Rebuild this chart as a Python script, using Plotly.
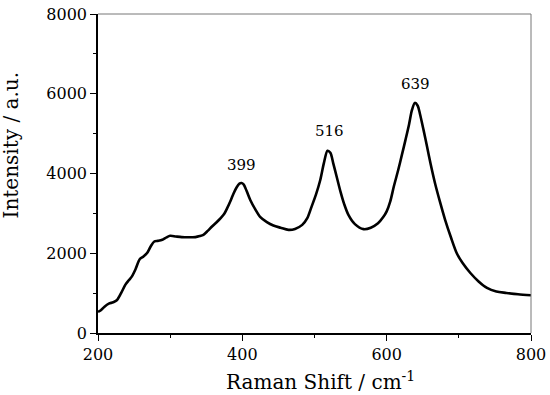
import plotly.graph_objects as go

shift = [200, 204, 209, 215, 221, 226, 232, 238, 243, 247, 252, 258, 263, 268, 273, 278, 283, 289, 295, 300,
         308, 316, 325, 335, 341, 346, 352, 358, 364, 370, 375, 379, 384, 388, 392, 396, 399, 402, 406, 411,
         418, 425, 434, 443, 453, 464, 473, 483, 490, 496, 502, 508, 513, 518, 522, 526, 531, 536, 541, 547,
         556, 568, 578, 588, 595, 600, 605, 610, 616, 621, 626, 631, 635, 639, 643, 646, 651, 656, 661, 667,
         674, 681, 689, 697, 705, 716, 727, 739, 752, 766, 782, 800]
intensity = [530, 570, 660, 737, 770, 820, 1000, 1212, 1330, 1420, 1600, 1855, 1920, 2005, 2170, 2295, 2310, 2337, 2400, 2437,
             2420, 2405, 2400, 2405, 2430, 2462, 2560, 2670, 2770, 2880, 2990, 3130, 3330, 3505, 3650, 3745, 3760, 3720, 3560, 3337,
             3100, 2905, 2780, 2695, 2640, 2587, 2610, 2712, 2880, 3170, 3470, 3837, 4260, 4570, 4520, 4255, 3900, 3545, 3240, 2962,
             2730, 2605, 2640, 2750, 2900, 3050, 3300, 3680, 4087, 4460, 4837, 5230, 5587, 5770, 5700, 5505, 5100, 4670, 4230, 3755,
             3280, 2837, 2400, 2005, 1760, 1505, 1300, 1130, 1040, 1005, 970, 945]

peak_label = ["399", "516", "639"]
label_pos_x = [398.6, 520.4, 640]
label_pos_y = [4212, 5062, 6237]

x_ticks = [200, 400, 600, 800]
y_ticks = [0, 2000, 4000, 6000, 8000]

x_title = "Raman Shift / cm<sup>-1</sup>"
y_title = "Intensity / a.u."

font = "DejaVu Serif"

fig = go.Figure()
fig.add_trace(go.Scatter(x=shift, y=intensity, mode="lines",
                         line=dict(color="black", width=2.6, shape="spline", smoothing=0.8),
                         showlegend=False, hoverinfo="skip"))

for lx, ly, t in zip(label_pos_x, label_pos_y, peak_label):
    fig.add_annotation(x=lx, y=ly, text=t, showarrow=False, xanchor="center", yanchor="middle",
                       font=dict(family=font, size=15, color="black"))

fig.add_annotation(xref="paper", yref="paper", x=0.513, y=-0.15, text=x_title, showarrow=False,
                   xanchor="center", yanchor="middle", font=dict(family=font, size=20, color="black"))
fig.add_annotation(xref="paper", yref="paper", x=-0.2, y=0.589, text=y_title, showarrow=False,
                   textangle=-90, xanchor="center", yanchor="middle", font=dict(family=font, size=20, color="black"))

fig.add_shape(type="line", xref="paper", yref="paper", x0=0, x1=1, y0=1, y1=1,
              line=dict(color="#777777", width=1))
fig.add_shape(type="line", xref="paper", yref="paper", x0=1, x1=1, y0=0, y1=1,
              line=dict(color="#777777", width=1))

fig.update_layout(
    width=550, height=395,
    margin=dict(l=97.5, r=19, t=13.5, b=61.5),
    paper_bgcolor="white", plot_bgcolor="white",
    font=dict(family=font, color="black"),
    xaxis=dict(range=[200, 800], tickvals=x_ticks, ticktext=[str(v) for v in x_ticks], automargin=False,
               showgrid=False, zeroline=False, showline=True, linecolor="black", linewidth=1.5,
               ticks="outside", ticklen=6, tickwidth=1.2, tickcolor="black",
               tickfont=dict(family=font, size=16, color="black"),
               minor=dict(dtick=100, tick0=200, ticks="outside", ticklen=3, tickwidth=1.2, tickcolor="black")),
    yaxis=dict(range=[0, 8000], tickvals=y_ticks, ticktext=[str(v) for v in y_ticks], automargin=False,
               showgrid=False, zeroline=False, showline=True, linecolor="black", linewidth=1.5,
               ticks="outside", ticklen=6, tickwidth=1.2, tickcolor="black",
               tickfont=dict(family=font, size=16, color="black"),
               minor=dict(dtick=1000, tick0=0, ticks="outside", ticklen=3, tickwidth=1.2, tickcolor="black")),
)

fig.write_html("out.html", config={"displayModeBar": False},
               post_script="document.body.style.margin='0';document.body.style.padding='0';")
